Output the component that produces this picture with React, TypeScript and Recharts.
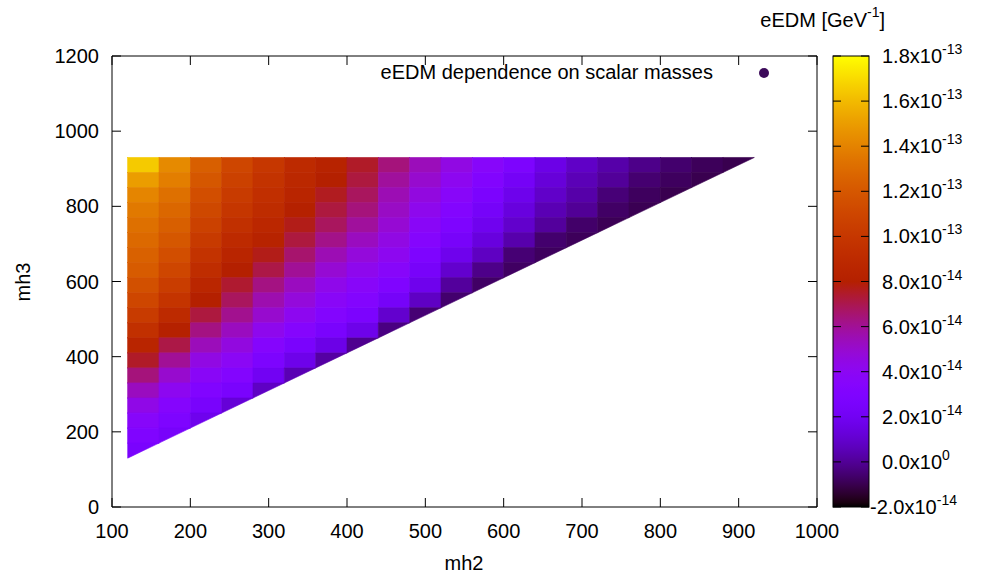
import React from 'react';
import { ScatterChart, Scatter, XAxis, YAxis, ReferenceArea } from 'recharts';

// grid of the scan (cell centres)
const mh2Values = [140, 180, 220, 260, 300, 340, 380, 420, 460, 500, 540, 580, 620, 660, 700, 740, 780, 820, 860, 900];
const mh3Values = [910, 870, 830, 790, 750, 710, 670, 630, 590, 550, 510, 470, 430, 390, 350, 310, 270, 230, 190, 150];

// eEDM in units of 1e-14 GeV^-1; one row per mh3 value, columns start at mh2 = 140
const eedmRows = [
  [16.5, 14.3, 12.4, 11.0, 10.0, 9.0, 8.3, 7.5, 6.4, 5.4, 4.5, 3.6, 2.8, 1.6, 0.85, 0.3, -0.2, -0.6, -0.85, -1.0],
  [15.0, 13.8, 12.0, 10.7, 9.7, 8.8, 8.0, 7.2, 5.9, 5.0, 4.1, 3.2, 2.2, 1.25, 0.55, 0.05, -0.55, -0.8, -1.0],
  [14.1, 13.2, 11.5, 10.3, 9.4, 8.5, 7.6, 6.8, 5.5, 4.6, 3.7, 2.75, 1.75, 0.9, 0.3, -0.45, -0.8, -1.0],
  [13.6, 12.8, 11.1, 9.9, 9.1, 8.1, 7.2, 6.4, 5.2, 4.2, 3.3, 2.3, 1.35, 0.5, 0.0, -0.7, -0.95],
  [13.2, 12.4, 10.7, 9.5, 8.7, 7.7, 6.8, 5.9, 4.9, 3.8, 2.9, 1.85, 0.95, 0.1, -0.65, -0.9],
  [12.9, 12.0, 10.2, 9.0, 8.3, 7.2, 6.2, 5.3, 4.5, 3.4, 2.4, 1.35, 0.35, -0.6, -0.85],
  [12.5, 11.5, 9.7, 8.5, 7.7, 6.6, 5.5, 4.7, 4.1, 2.9, 1.8, 0.75, -0.5, -0.8],
  [12.2, 11.0, 9.2, 8.0, 7.1, 6.0, 4.9, 4.2, 3.6, 2.4, 1.0, -0.2, -0.75],
  [11.6, 10.4, 8.6, 7.4, 6.3, 5.3, 4.3, 3.7, 3.0, 1.8, 0.1, -0.7],
  [11.0, 9.8, 8.0, 6.8, 5.6, 4.7, 3.8, 3.3, 2.3, 0.8, -0.6],
  [10.3, 9.0, 7.2, 6.1, 5.0, 4.1, 3.3, 2.7, 1.0, -0.5],
  [9.5, 8.1, 6.3, 5.3, 4.2, 3.4, 2.6, 1.7, -0.3],
  [8.5, 7.1, 5.4, 4.6, 3.4, 2.6, 1.6, -0.1],
  [7.5, 6.0, 4.5, 3.9, 2.8, 1.7, 0.2],
  [6.4, 5.0, 3.8, 3.3, 2.0, 0.5],
  [5.3, 4.1, 3.1, 2.6, 0.8],
  [4.4, 3.4, 2.5, 1.2],
  [3.6, 2.9, 1.8],
  [3.0, 2.4],
  [2.6],
];

const xTicks = [100, 200, 300, 400, 500, 600, 700, 800, 900, 1000];
const yTicks = [0, 200, 400, 600, 800, 1000, 1200];
const cbTicks = [-2, 0, 2, 4, 6, 8, 10, 12, 14, 16, 18];
const cbMantissa = ['-2.0', '0.0', '2.0', '4.0', '6.0', '8.0', '1.0', '1.2', '1.4', '1.6', '1.8'];
const cbExponent = ['-14', '0', '-14', '-14', '-14', '-14', '-13', '-13', '-13', '-13', '-13'];

const W = 984;
const H = 576;
const PLOT_LEFT = 112;
const PLOT_RIGHT = 817;
const PLOT_TOP = 56;
const PLOT_BOTTOM = 507;
const TICK = 9;
const CB_LEFT = 833;
const CB_RIGHT = 869;
const CB_MIN = -2;
const CB_MAX = 18;
const FONT = '"Liberation Sans", Arial, Helvetica, sans-serif';

const HALF_W = (20 * (PLOT_RIGHT - PLOT_LEFT)) / 900;
const HALF_H = (20 * (PLOT_BOTTOM - PLOT_TOP)) / 1200;

// gnuplot default palette (rgbformulae 7,5,15)
const palette = (v: number) => {
  const t = Math.min(1, Math.max(0, (v - CB_MIN) / (CB_MAX - CB_MIN)));
  const r = Math.sqrt(t);
  const g = t * t * t;
  const b = Math.max(0, Math.sin(2 * Math.PI * t));
  return `rgb(${Math.round(r * 255)},${Math.round(g * 255)},${Math.round(b * 255)})`;
};

const cells = mh3Values.flatMap((mh3, i) =>
  eedmRows[i].map((eedm, j) => ({
    mh2: mh2Values[j],
    mh3,
    eedm,
    diag: j === eedmRows[i].length - 1,
  }))
);

const CellShape = (props: any) => {
  const { cx, cy, payload } = props;
  const fill = palette(payload.eedm);
  if (payload.diag) {
    return (
      <polygon
        points={`${cx - HALF_W},${cy + HALF_H} ${cx - HALF_W},${cy - HALF_H} ${cx + HALF_W},${cy - HALF_H}`}
        fill={fill}
        stroke={fill}
        strokeWidth={0.6}
      />
    );
  }
  return (
    <rect
      x={cx - HALF_W}
      y={cy - HALF_H}
      width={2 * HALF_W}
      height={2 * HALF_H}
      fill={fill}
      stroke={fill}
      strokeWidth={0.6}
    />
  );
};

const XTick = ({ x, payload }: any) => (
  <g>
    <line x1={x} y1={PLOT_BOTTOM} x2={x} y2={PLOT_BOTTOM - TICK} stroke="#000" />
    <line x1={x} y1={PLOT_TOP} x2={x} y2={PLOT_TOP + TICK} stroke="#000" />
    <text x={x} y={538} textAnchor="middle" fontSize={20} fill="#000" fontFamily={FONT}>
      {payload.value}
    </text>
  </g>
);

const YTick = ({ y, payload }: any) => (
  <g>
    <line x1={PLOT_LEFT} y1={y} x2={PLOT_LEFT + TICK} y2={y} stroke="#000" />
    <line x1={PLOT_RIGHT} y1={y} x2={PLOT_RIGHT - TICK} y2={y} stroke="#000" />
    <text x={99} y={y + 7} textAnchor="end" fontSize={20} fill="#000" fontFamily={FONT}>
      {payload.value}
    </text>
  </g>
);

const gradientStops = Array.from({ length: 101 }, (_, i) => i / 100);

const CbTick = ({ y, payload, index }: any) => {
  const k = cbTicks.indexOf(payload.value);
  return (
    <g>
      {index === 0 && (
        <g>
          <defs>
            <linearGradient id="cbPalette" x1="0" y1="1" x2="0" y2="0">
              {gradientStops.map((t) => (
                <stop key={t} offset={t} stopColor={palette(CB_MIN + t * (CB_MAX - CB_MIN))} />
              ))}
            </linearGradient>
          </defs>
          <rect
            x={CB_LEFT}
            y={PLOT_TOP}
            width={CB_RIGHT - CB_LEFT}
            height={PLOT_BOTTOM - PLOT_TOP}
            fill="url(#cbPalette)"
            stroke="#000"
          />
        </g>
      )}
      <line x1={CB_LEFT} y1={y} x2={CB_LEFT + 8} y2={y} stroke="#000" />
      <line x1={CB_RIGHT} y1={y} x2={CB_RIGHT - 8} y2={y} stroke="#000" />
      <text
        x={payload.value < 0 ? 870 : 882}
        y={y + 7}
        fontSize={20}
        fill="#000"
        fontFamily={FONT}
      >
        {cbMantissa[k]}x10
        <tspan dy={-9} fontSize={14}>
          {cbExponent[k]}
        </tspan>
      </text>
    </g>
  );
};

export default function App() {
  return (
    <div style={{ position: 'absolute', left: 0, top: 0, width: W, height: H, background: '#fff', fontFamily: FONT }}>
      <ScatterChart width={W} height={H} margin={{ top: PLOT_TOP, right: 107, bottom: 29, left: 52 }}>
        <XAxis
          dataKey="mh2"
          type="number"
          domain={[100, 1000]}
          ticks={xTicks}
          interval={0}
          height={40}
          tickLine={false}
          axisLine={false}
          tick={<XTick />}
          allowDataOverflow
        />
        <YAxis
          yAxisId="m"
          dataKey="mh3"
          type="number"
          domain={[0, 1200]}
          ticks={yTicks}
          interval={0}
          width={60}
          tickLine={false}
          axisLine={false}
          tick={<YTick />}
          allowDataOverflow
        />
        <YAxis
          yAxisId="cb"
          orientation="right"
          type="number"
          domain={[CB_MIN, CB_MAX]}
          ticks={cbTicks}
          interval={0}
          width={60}
          tickLine={false}
          axisLine={false}
          tick={<CbTick />}
          allowDataOverflow
        />
        <Scatter
          data={cells}
          yAxisId="m"
          shape={CellShape}
          isAnimationActive={false}
          legendType="none"
        />
        <ReferenceArea
          yAxisId="m"
          x1={100}
          x2={1000}
          y1={0}
          y2={1200}
          fill="none"
          stroke="#000"
          strokeWidth={1}
          fillOpacity={0}
        />
      </ScatterChart>
      <svg
        width={W}
        height={H}
        style={{ position: 'absolute', left: 0, top: 0, pointerEvents: 'none' }}
        fontFamily={FONT}
      >
        <text x={464} y={570} textAnchor="middle" fontSize={20}>mh2</text>
        <text x={30} y={282} textAnchor="middle" fontSize={20} transform="rotate(-90 30 282)">mh3</text>
        <text x={713} y={79} textAnchor="end" fontSize={20}>eEDM dependence on scalar masses</text>
        <circle cx={764} cy={73} r={5} fill="#3c0a5a" />
        <text x={885} y={27} textAnchor="end" fontSize={20}>
          eEDM [GeV
          <tspan dy={-10} fontSize={14}>-1</tspan>
          <tspan dy={10}>]</tspan>
        </text>
      </svg>
    </div>
  );
}
